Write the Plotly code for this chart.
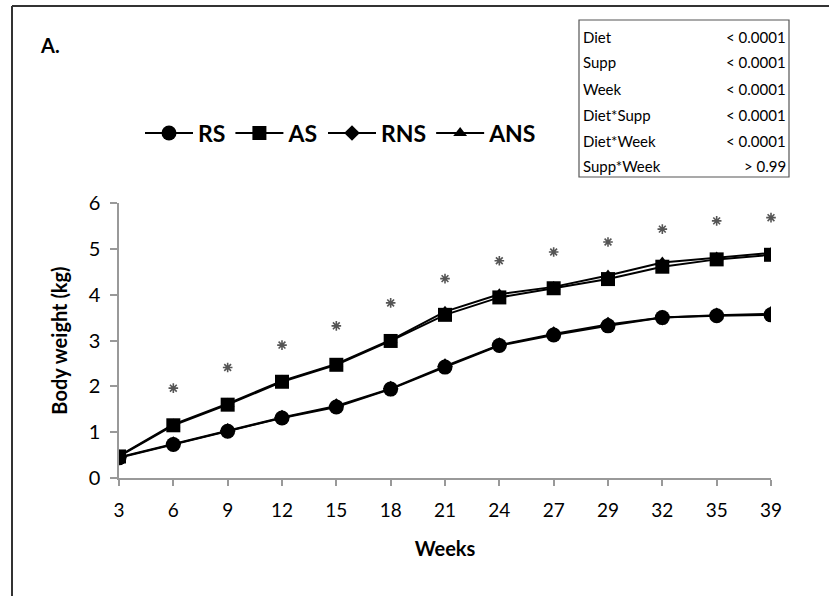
import plotly.graph_objects as go

weeks = ["3", "6", "9", "12", "15", "18", "21", "24", "27", "29", "32", "35", "39"]
rs  = [0.44, 0.73, 1.02, 1.31, 1.55, 1.94, 2.42, 2.89, 3.12, 3.32, 3.50, 3.54, 3.56]
as_ = [0.47, 1.15, 1.60, 2.10, 2.47, 2.99, 3.56, 3.94, 4.14, 4.34, 4.61, 4.77, 4.87]
rns = [0.45, 0.74, 1.03, 1.32, 1.57, 1.95, 2.44, 2.90, 3.14, 3.35, 3.50, 3.55, 3.58]
ans = [0.48, 1.17, 1.62, 2.12, 2.49, 3.01, 3.63, 4.01, 4.17, 4.42, 4.70, 4.81, 4.91]
star_weeks = ["6", "9", "12", "15", "18", "21", "24", "27", "29", "32", "35", "39"]
star_y = [1.96, 2.41, 2.90, 3.32, 3.82, 4.35, 4.74, 4.93, 5.15, 5.43, 5.61, 5.68]

stats_labels = ["Diet", "Supp", "Week", "Diet*Supp", "Diet*Week", "Supp*Week"]
stats_values = ["< 0.0001", "< 0.0001", "< 0.0001", "< 0.0001", "< 0.0001", "> 0.99"]

W, H = 829, 596
L, R, T, B = 119, 771, 203, 478
FONT = "Lato, 'Open Sans', sans-serif"

def px(x):
    return (x - L) / (R - L)

def py(y):
    return (B - y) / (B - T)

fig = go.Figure()

def add(name, y, sym, size, rank):
    fig.add_trace(go.Scatter(
        x=weeks, y=y, name=name, mode="lines+markers", legendrank=rank,
        line=dict(color="black", width=2),
        marker=dict(symbol=sym, size=size, color="black"),
    ))

add("RNS", rns, "diamond", 12, 3)
add("ANS", ans, "triangle-up", 12, 4)
add("RS", rs, "circle", 15, 1)
add("AS", as_, "square", 14, 2)

fig.add_trace(go.Scatter(
    x=star_weeks, y=star_y, mode="markers", showlegend=False, cliponaxis=False,
    marker=dict(symbol="asterisk", size=8, line=dict(color="#555", width=1.6)),
))

shapes = [
    dict(type="line", xref="paper", yref="paper", x0=px(12), x1=px(840), y0=py(6), y1=py(6),
         line=dict(color="#333", width=2)),
    dict(type="line", xref="paper", yref="paper", x0=px(12), x1=px(12), y0=py(6), y1=py(610),
         line=dict(color="#333", width=2)),
    dict(type="rect", xref="paper", yref="paper", x0=px(579), x1=px(789), y0=py(20), y1=py(177),
         line=dict(color="#555", width=1.2), fillcolor="white"),
]

annotations = [
    dict(text="<b>A.</b>", xref="paper", yref="paper", x=px(38), y=py(45), xanchor="left",
         yanchor="middle", showarrow=False, font=dict(size=20, family=FONT, color="black")),
]
row_y = [36.5, 62.5, 89, 114.5, 141, 166.5]
for lab, val, yy in zip(stats_labels, stats_values, row_y):
    annotations.append(dict(text=lab, xref="paper", yref="paper", x=px(581), y=py(yy),
                            xanchor="left", yanchor="middle", showarrow=False,
                            font=dict(size=15, family=FONT, color="black")))
    annotations.append(dict(text=val, xref="paper", yref="paper", x=px(788), y=py(yy),
                            xanchor="right", yanchor="middle", showarrow=False,
                            font=dict(size=15, family=FONT, color="black")))

fig.update_layout(
    width=W, height=H,
    margin=dict(l=L, r=W - R, t=T, b=H - B),
    paper_bgcolor="white", plot_bgcolor="white",
    font=dict(family=FONT, color="black"),
    showlegend=True,
    legend=dict(orientation="h", x=px(140), y=py(133), xanchor="left", yanchor="middle",
                font=dict(size=23, family=FONT, color="black", weight="bold"), itemwidth=48,
                bgcolor="rgba(0,0,0,0)", traceorder="normal"),
    xaxis=dict(type="category", range=[0, 12], showgrid=False, zeroline=False,
               showline=True, linecolor="#999", linewidth=1.5,
               ticks="outside", ticklen=6, tickcolor="#999", tickwidth=1.5,
               ticklabelstandoff=8,
               tickfont=dict(size=19, family=FONT, color="black"),
               title=dict(text="<b>Weeks</b>", font=dict(size=20, family=FONT), standoff=22)),
    yaxis=dict(range=[0, 6], dtick=1, showgrid=False, zeroline=False,
               showline=True, linecolor="#999", linewidth=1.5,
               ticks="outside", ticklen=7, tickcolor="#999", tickwidth=1.5,
               ticklabelstandoff=6,
               tickfont=dict(size=20, family=FONT, color="black"),
               title=dict(text="<b>Body weight (kg)</b>", font=dict(size=20, family=FONT), standoff=16)),
    shapes=shapes, annotations=annotations,
)

fig.write_html("out.html")
